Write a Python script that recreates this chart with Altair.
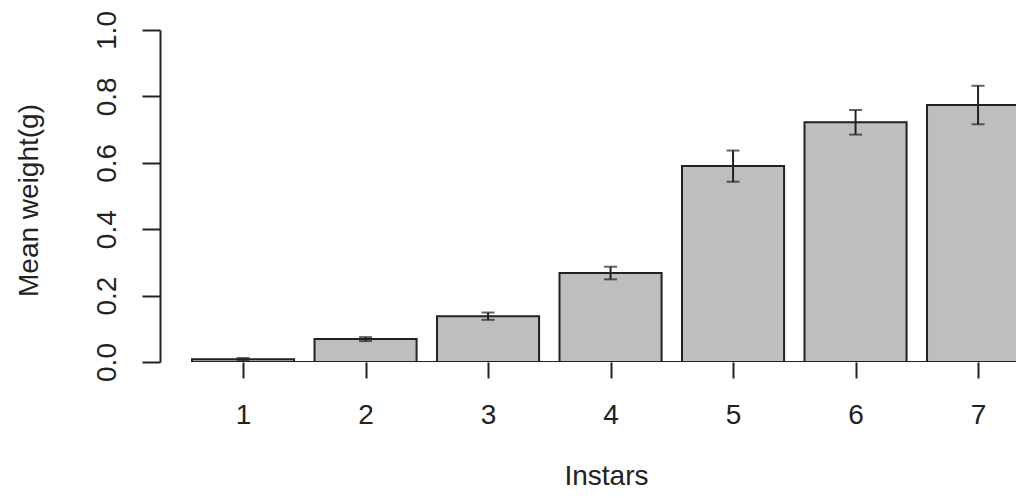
import altair as alt
import pandas as pd

instars = [1, 2, 3, 4, 5, 6, 7]
mean_weight = [0.008, 0.069, 0.138, 0.268, 0.590, 0.722, 0.774]
std_error = [0.004, 0.006, 0.011, 0.019, 0.047, 0.037, 0.058]
y_ticks = [0.0, 0.2, 0.4, 0.6, 0.8, 1.0]

half = 0.5 / 1.2  # R barplot: width 1, space 0.2
df = pd.DataFrame({"instar": instars, "mean": mean_weight, "se": std_error})
df["lo"] = df["instar"] - half
df["hi"] = df["instar"] + half
df["upper"] = df["mean"] + df["se"]
df["lower"] = df["mean"] - df["se"]

W, H = 856, 332
xmin = 0.322
xmax = xmin + W / 122.5
xscale = alt.Scale(domain=[xmin, xmax], nice=False, zero=False)
yscale = alt.Scale(domain=[0, 1], nice=False)
INK = "#222222"
FONT = "Liberation Sans"

base = alt.Chart(df)

bars = base.mark_bar(fill="#BEBEBE", stroke=INK, strokeWidth=2, clip=True).encode(
    x=alt.X("lo:Q", scale=xscale,
            axis=alt.Axis(values=instars, format="d", title="Instars", grid=False, domain=False,
                          tickSize=16, tickWidth=2, tickColor=INK,
                          labelFontSize=28, labelFont=FONT, labelColor=INK,
                          labelBaseline="alphabetic", labelPadding=45,
                          labelFlush=False, labelOverlap=False,
                          titleFontSize=28, titleFont=FONT, titleFontWeight="normal",
                          titleColor=INK, titleX=446, titleY=122,
                          titleAlign="center", titleBaseline="alphabetic")),
    x2="hi:Q",
    y=alt.Y("mean:Q", scale=yscale,
            axis=alt.Axis(values=y_ticks, format=".1f", title="Mean weight(g)", grid=False,
                          domainColor=INK, domainWidth=2,
                          tickSize=18, tickWidth=2, tickColor=INK,
                          labelAngle=270, labelAlign="center", labelBaseline="alphabetic",
                          labelPadding=27, labelFontSize=28, labelFont=FONT,
                          labelColor=INK, labelFlush=False, labelOverlap=False,
                          titleFontSize=28, titleFont=FONT, titleFontWeight="normal",
                          titleColor=INK, titleAngle=270, titleX=-123, titleY=170,
                          titleAlign="center", titleBaseline="alphabetic")),
    y2=alt.datum(0),
)

baseline = alt.Chart(df).mark_rule(color=INK, strokeWidth=2, clip=True).encode(
    x=alt.datum(1 - half, scale=xscale),
    x2=alt.value(W),
    y=alt.datum(0, scale=yscale),
)

err = base.mark_rule(color=INK, strokeWidth=2).encode(
    x=alt.X("instar:Q", scale=xscale),
    y=alt.Y("lower:Q", scale=yscale),
    y2="upper:Q",
)
cap_top = base.mark_tick(color=INK, thickness=2, size=13, orient="horizontal").encode(
    x=alt.X("instar:Q", scale=xscale),
    y=alt.Y("upper:Q", scale=yscale),
)
cap_bot = base.mark_tick(color=INK, thickness=2, size=13, orient="horizontal").encode(
    x=alt.X("instar:Q", scale=xscale),
    y=alt.Y("lower:Q", scale=yscale),
)

chart = alt.layer(baseline, bars, err, cap_top, cap_bot).properties(
    width=W, height=H,
    background="white",
    autosize=alt.AutoSizeParams(type="none"),
    padding={"left": 152, "top": 22, "right": 0, "bottom": 128},
).configure_view(stroke="transparent", strokeWidth=0).configure_axis(grid=False)

chart.save("out.html", embed_options={"renderer": "svg", "actions": False})
